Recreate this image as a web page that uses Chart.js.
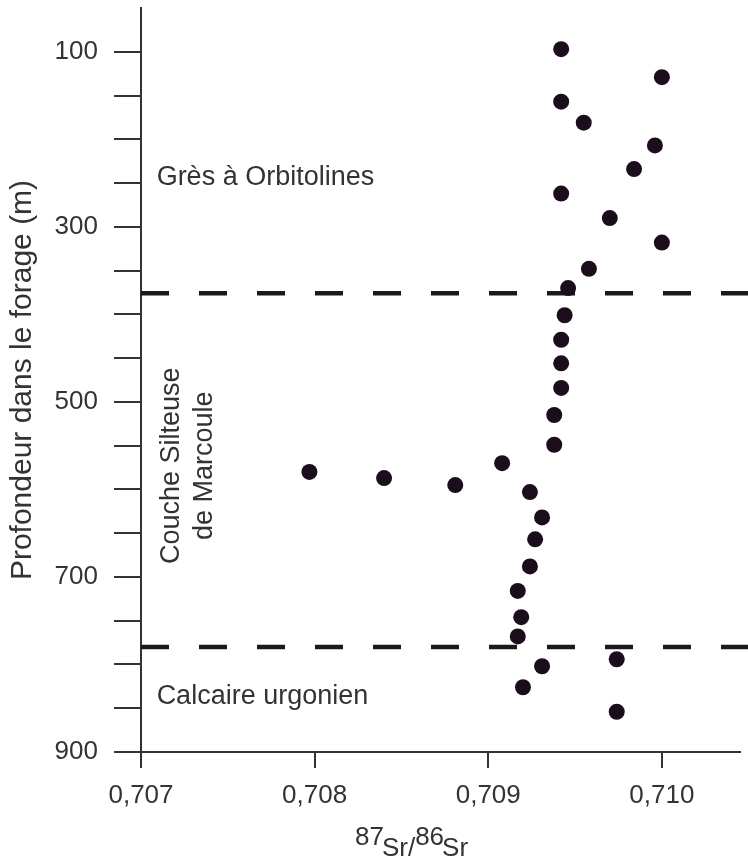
<!DOCTYPE html>
<html lang="fr">
<head>
<meta charset="utf-8">
<title>Sr isotopes - forage de Marcoule</title>
<script src="https://cdn.jsdelivr.net/npm/chart.js@4.4.0/dist/chart.umd.min.js"></script>
<style>
  html, body { margin: 0; padding: 0; background: #fff; }
  #wrap { width: 748px; height: 863px; position: relative; }
</style>
</head>
<body>
<div id="wrap"><canvas id="srChart"></canvas></div>
<script>
// --- Data ---
const srRatio = [
  0.70942, 0.71000, 0.70942, 0.70955, 0.70996, 0.70984, 0.70942, 0.70970,
  0.71000, 0.70958, 0.70946, 0.70944, 0.70942, 0.70942, 0.70942, 0.70938,
  0.70938, 0.70908, 0.70797, 0.70840, 0.70881, 0.70924, 0.70931, 0.70927,
  0.70924, 0.70917, 0.70919, 0.70917, 0.70931, 0.70974, 0.70920, 0.70974
];
const depth = [
  97, 129, 157, 181, 207, 234, 262, 290,
  318, 348, 370, 401, 429, 456, 484, 515,
  549, 570, 580, 587, 595, 603, 632, 657,
  688, 716, 746, 768, 802, 794, 826, 854
];
const boundaryDepths = [376, 780];
const xTicks = [0.707, 0.708, 0.709, 0.710];
const yTicks = [100, 150, 200, 250, 300, 350, 400, 450, 500, 550, 600, 650, 700, 750, 800, 850, 900];
const yLabelled = [100, 300, 500, 700, 900];

// lithological units (label anchor in data units)
const unitNames = ['Grès à Orbitolines', 'Calcaire urgonien'];
const unitX = [0.70709, 0.70709];
const unitY = [244, 837];
const siltLines = ['Couche Silteuse', 'de Marcoule'];
const siltX = 0.707272;
const siltY = 573;

const FONT = '"Liberation Sans", Arial, Helvetica, sans-serif';
const TEXT = '#333333';
const AXIS = '#333333';

// --- Text overlays drawn on the canvas ---
const labelsPlugin = {
  id: 'unitLabels',
  afterDatasetsDraw(chart) {
    const { ctx, scales: { x, y } } = chart;
    ctx.save();
    ctx.fillStyle = TEXT;
    ctx.font = `27px ${FONT}`;
    ctx.textBaseline = 'middle';
    ctx.textAlign = 'left';
    unitNames.forEach((name, i) => {
      ctx.fillText(name, x.getPixelForValue(unitX[i]), y.getPixelForValue(unitY[i]));
    });

    // rotated two-line label
    ctx.translate(x.getPixelForValue(siltX), y.getPixelForValue(siltY));
    ctx.rotate(-Math.PI / 2);
    ctx.textAlign = 'center';
    ctx.fillText(siltLines[0], 0, -16.5);
    ctx.fillText(siltLines[1], 0, 16.5);
    ctx.restore();
  },
  afterDraw(chart) {
    // x axis title with superscripts: 87Sr/86Sr
    const { ctx, chartArea } = chart;
    const parts = [['87', true], ['Sr/', false], ['86', true], ['Sr', false]];
    ctx.save();
    ctx.fillStyle = TEXT;
    ctx.font = `26px ${FONT}`;
    ctx.textBaseline = 'alphabetic';
    ctx.textAlign = 'left';
    const total = parts.reduce((s, p) => s + ctx.measureText(p[0]).width, 0);
    let cx = chartArea.left + (chartArea.right - chartArea.left) * 0.455 - total / 2;
    const base = chart.height - 7;
    parts.forEach(([t, sup]) => {
      ctx.fillText(t, cx, sup ? base - 11 : base);
      cx += ctx.measureText(t).width - (sup ? 2 : 0);
    });
    ctx.restore();
  }
};

// --- Chart ---
const ctx = document.getElementById('srChart').getContext('2d');

const boundarySets = boundaryDepths.map(d => ({
  type: 'line',
  data: [{ x: 0.707, y: d }, { x: 0.7106, y: d }],
  borderColor: '#1a1a1a',
  borderWidth: 4.5,
  borderDash: [28, 30],
  pointRadius: 0,
  clip: false,
  order: 2
}));

new Chart(ctx, {
  type: 'scatter',
  data: {
    datasets: [{
      label: 'Sr',
      data: srRatio.map((v, i) => ({ x: v, y: depth[i] })),
      backgroundColor: '#1c0d1c',
      borderWidth: 0,
      pointRadius: 8,
      order: 1
    }, ...boundarySets]
  },
  options: {
    responsive: true,
    maintainAspectRatio: false,
    animation: false,
    layout: { padding: { top: 8, right: 5, left: 0, bottom: 0 } },
    plugins: { legend: { display: false }, tooltip: { enabled: false } },
    scales: {
      x: {
        type: 'linear',
        min: 0.707,
        max: 0.71045,
        afterFit: s => { s.height = 111; s.paddingLeft = 0; s.paddingRight = 0; },
        afterBuildTicks: s => { s.ticks = xTicks.map(v => ({ value: v })); },
        grid: { drawOnChartArea: false, tickLength: 16, tickColor: AXIS, lineWidth: 2 },
        border: { color: AXIS, width: 2 },
        ticks: {
          color: TEXT,
          padding: 12,
          maxRotation: 0,
          font: { family: FONT, size: 26 },
          callback: v => v.toFixed(3).replace('.', ',')
        }
      },
      y: {
        type: 'linear',
        reverse: true,
        min: 50,
        max: 900,
        afterFit: s => { s.width = 141; s.paddingTop = 0; s.paddingBottom = 0; },
        afterBuildTicks: s => { s.ticks = yTicks.map(v => ({ value: v })); },
        grid: { drawOnChartArea: false, tickLength: 27, tickColor: AXIS, lineWidth: 2 },
        border: { color: AXIS, width: 2 },
        ticks: {
          color: TEXT,
          padding: 16,
          font: { family: FONT, size: 26 },
          callback: v => yLabelled.includes(v) ? String(v) : ''
        },
        title: {
          display: true,
          text: 'Profondeur dans le forage (m)',
          color: TEXT,
          font: { family: FONT, size: 30 },
          padding: { top: 5, bottom: 0 }
        }
      }
    }
  },
  plugins: [labelsPlugin]
});
</script>
</body>
</html>
